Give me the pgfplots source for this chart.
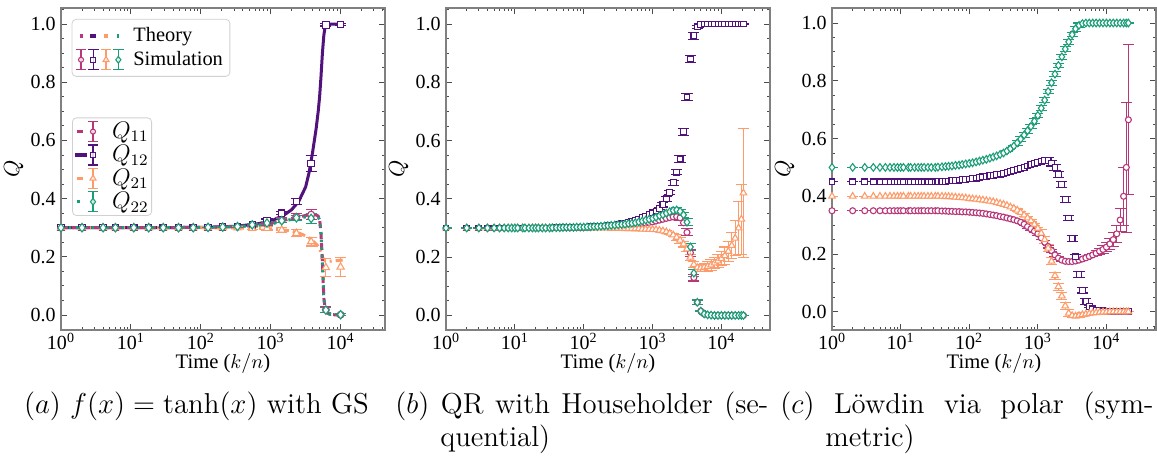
\documentclass[border=0pt]{standalone}
\usepackage{pgfplots}
\pgfplotsset{compat=1.18}
\usepackage{pgfplotstable}
\usepackage{fontspec}
\newfontfamily\libser{Liberation Serif}
\definecolor{c11}{HTML}{B73779}
\definecolor{c12}{HTML}{51127C}
\definecolor{c21}{HTML}{FD9B6A}
\definecolor{c22}{HTML}{1B9E77}

% ---------- panel (a): theory curves ----------
\pgfplotstableread{
x t11 t12 t21 t22
1 0.300 0.300 0.300 0.300
10 0.300 0.300 0.300 0.300
100 0.301 0.301 0.300 0.301
316 0.304 0.305 0.299 0.303
631 0.309 0.313 0.298 0.308
1000 0.315 0.322 0.296 0.313
1585 0.326 0.345 0.292 0.323
1995 0.332 0.362 0.288 0.329
2512 0.337 0.390 0.282 0.333
3162 0.342 0.440 0.272 0.337
3548 0.344 0.490 0.265 0.339
3981 0.345 0.560 0.256 0.340
4467 0.344 0.640 0.244 0.339
4786 0.340 0.700 0.236 0.336
5012 0.330 0.750 0.228 0.328
5248 0.280 0.820 0.215 0.280
5495 0.180 0.900 0.200 0.180
5754 0.060 0.960 0.190 0.060
6026 0.020 0.993 0.186 0.020
6310 0.008 0.999 0.185 0.008
7079 0.002 1.000 0.185 0.002
7943 0.001 1.000 0.186 0.001
10000 0.000 1.000 0.188 0.000
10965 0.000 1.000 0.189 0.000
}\thA

% ---------- panel (a): simulation ----------
\pgfplotstableread{
x q11 e11 q12 e12 q21 e21 q22 e22
1 0.300 0 0.300 0 0.300 0 0.300 0
2 0.300 0 0.300 0 0.300 0 0.300 0
4 0.300 0 0.300 0 0.300 0 0.300 0
6 0.300 0 0.300 0 0.300 0 0.300 0
11 0.300 0 0.300 0 0.300 0 0.300 0
18 0.300 0 0.300 0 0.300 0 0.300 0
29 0.300 0 0.300 0 0.300 0 0.300 0
48 0.300 0 0.300 0 0.300 0 0.300 0
78 0.300 0 0.300 0 0.300 0 0.300 0
127 0.301 0 0.301 0 0.300 0 0.301 0
206 0.302 0.002 0.302 0.002 0.300 0.002 0.302 0.002
335 0.303 0.003 0.304 0.003 0.300 0.003 0.304 0.003
545 0.307 0.004 0.310 0.004 0.298 0.004 0.310 0.004
885 0.314 0.005 0.325 0.005 0.298 0.006 0.316 0.005
1438 0.326 0.008 0.350 0.006 0.292 0.008 0.324 0.007
2335 0.338 0.010 0.390 0.010 0.281 0.012 0.334 0.009
3792 0.345 0.018 0.520 0.027 0.252 0.015 0.332 0.016
6158 0.018 0.010 0.997 0.004 0.163 0.030 0.017 0.008
10000 0.001 0.003 0.998 0.004 0.165 0.034 0.001 0.003
}\simA

% ---------- panel (b) ----------
\pgfplotstableread{
x q11 e11 q12 e12 q21 e21 q22 e22
1 0.300 0 0.300 0 0.300 0 0.300 0
2 0.300 0 0.300 0 0.300 0 0.300 0
3 0.300 0 0.300 0 0.300 0 0.300 0
4 0.300 0 0.300 0 0.300 0 0.300 0
5 0.300 0 0.300 0 0.300 0 0.300 0
6 0.300 0 0.300 0 0.300 0 0.300 0
7 0.300 0 0.300 0 0.300 0 0.300 0
8 0.300 0 0.300 0 0.300 0 0.300 0
9 0.300 0 0.300 0 0.300 0 0.300 0
10 0.300 0 0.300 0 0.300 0 0.300 0
11 0.300 0 0.300 0 0.300 0 0.300 0
13 0.300 0 0.300 0 0.300 0 0.300 0
14 0.300 0 0.300 0 0.300 0 0.300 0
16 0.300 0 0.300 0 0.300 0 0.300 0
18 0.300 0 0.300 0 0.300 0 0.300 0
20 0.300 0 0.300 0 0.300 0 0.300 0
22 0.300 0 0.300 0 0.300 0 0.300 0
25 0.300 0 0.300 0 0.300 0 0.300 0
28 0.300 0 0.300 0 0.300 0 0.300 0
32 0.300 0 0.300 0 0.300 0 0.300 0
35 0.300 0 0.300 0 0.300 0 0.301 0
40 0.301 0 0.301 0 0.300 0 0.301 0
45 0.301 0 0.301 0 0.300 0 0.301 0
50 0.301 0 0.301 0 0.300 0 0.302 0
56 0.301 0 0.302 0 0.300 0 0.302 0
63 0.301 0 0.302 0 0.300 0 0.302 0
71 0.302 0 0.302 0 0.300 0 0.302 0
79 0.302 0 0.302 0 0.300 0 0.303 0
89 0.302 0 0.303 0 0.300 0 0.303 0
100 0.302 0 0.303 0 0.300 0 0.303 0
112 0.303 0 0.303 0 0.300 0 0.304 0
126 0.303 0 0.304 0 0.300 0 0.304 0
141 0.303 0 0.304 0 0.300 0 0.305 0
158 0.304 0 0.305 0 0.300 0 0.305 0
178 0.304 0 0.306 0 0.300 0 0.306 0
200 0.305 0 0.307 0 0.300 0 0.307 0
224 0.305 0 0.308 0 0.300 0 0.308 0
251 0.306 0 0.309 0 0.299 0 0.309 0
282 0.306 0 0.310 0 0.299 0 0.310 0
316 0.307 0 0.312 0 0.299 0 0.311 0
355 0.308 0 0.314 0 0.299 0 0.312 0
398 0.309 0 0.316 0 0.298 0 0.313 0
447 0.310 0 0.319 0 0.298 0 0.315 0
501 0.311 0.004 0.322 0.004 0.298 0.004 0.316 0.004
562 0.313 0.004 0.326 0.004 0.297 0.004 0.318 0.004
631 0.314 0.004 0.330 0.004 0.297 0.004 0.321 0.004
708 0.315 0.004 0.335 0.004 0.296 0.004 0.324 0.004
794 0.317 0.004 0.340 0.004 0.296 0.004 0.327 0.004
891 0.319 0.004 0.346 0.004 0.295 0.004 0.330 0.004
1000 0.321 0.004 0.352 0.004 0.295 0.004 0.333 0.004
1122 0.324 0.004 0.358 0.004 0.294 0.004 0.337 0.004
1259 0.327 0.004 0.367 0.004 0.292 0.004 0.342 0.004
1413 0.330 0.004 0.380 0.008 0.290 0.004 0.346 0.004
1585 0.333 0.004 0.400 0.008 0.287 0.004 0.351 0.004
1778 0.336 0.004 0.422 0.008 0.282 0.004 0.356 0.004
1995 0.338 0.004 0.455 0.008 0.276 0.004 0.360 0.004
2239 0.339 0.008 0.492 0.008 0.268 0.010 0.362 0.008
2512 0.335 0.008 0.537 0.012 0.258 0.010 0.357 0.008
2818 0.318 0.008 0.630 0.012 0.245 0.010 0.345 0.008
3162 0.285 0.012 0.750 0.012 0.228 0.010 0.320 0.012
3548 0.215 0.012 0.880 0.012 0.200 0.010 0.235 0.012
3981 0.130 0.012 0.960 0.012 0.175 0.010 0.145 0.012
4467 0.045 0.008 0.990 0.006 0.164 0.012 0.045 0.008
5012 0.015 0.003 0.998 0.002 0.163 0.013 0.015 0.003
5623 0.005 0 1.000 0 0.165 0.014 0.005 0
6310 0.002 0 1.000 0 0.168 0.016 0.002 0
7079 0.001 0 1.000 0 0.173 0.018 0.001 0
7943 0.000 0 1.000 0 0.180 0.020 0.000 0
8913 0.000 0 1.000 0 0.187 0.022 0.000 0
10000 0.000 0 1.000 0 0.195 0.025 0.000 0
11220 0.000 0 1.000 0 0.205 0.030 0.000 0
12589 0.000 0 1.000 0 0.220 0.035 0.000 0
14125 0.000 0 1.000 0 0.240 0.045 0.000 0
15849 0.000 0 1.000 0 0.265 0.060 0.000 0
17783 0.000 0 1.000 0 0.300 0.090 0.000 0
19498 0.000 0 1.000 0 0.330 0.120 0.000 0
20893 0.000 0 1.000 0 0.420 0.220 0.000 0
}\simB

% ---------- panel (c) ----------
\pgfplotstableread{
x q11 e11 q12 e12 q21 e21 q22 e22
1 0.350 0 0.450 0 0.400 0 0.500 0
2 0.350 0 0.450 0 0.400 0 0.500 0
3 0.350 0 0.450 0 0.400 0 0.500 0
4 0.350 0 0.450 0 0.400 0 0.500 0
5 0.350 0 0.450 0 0.400 0 0.500 0
6 0.350 0 0.450 0 0.400 0 0.500 0
7 0.350 0 0.450 0 0.400 0 0.500 0
8 0.350 0 0.450 0 0.400 0 0.500 0
9 0.350 0 0.450 0 0.400 0 0.500 0
10 0.350 0 0.450 0 0.400 0 0.500 0
11 0.350 0 0.450 0 0.400 0 0.500 0
13 0.350 0 0.450 0 0.400 0 0.500 0
14 0.350 0 0.450 0 0.400 0 0.500 0
16 0.350 0 0.450 0 0.400 0 0.500 0
18 0.350 0 0.450 0 0.400 0 0.500 0
20 0.350 0 0.450 0 0.400 0 0.500 0
22 0.350 0 0.450 0 0.400 0 0.500 0
25 0.350 0 0.450 0 0.400 0 0.500 0
28 0.350 0 0.450 0 0.400 0 0.500 0
32 0.350 0 0.450 0 0.400 0 0.500 0
35 0.350 0 0.451 0 0.400 0 0.501 0
40 0.349 0 0.451 0 0.400 0 0.502 0
45 0.349 0 0.452 0 0.399 0 0.503 0
50 0.348 0 0.453 0 0.399 0 0.504 0
56 0.348 0 0.454 0 0.398 0 0.505 0
63 0.347 0 0.455 0 0.397 0 0.507 0
71 0.347 0 0.456 0 0.396 0 0.508 0
79 0.346 0 0.457 0 0.395 0 0.510 0
89 0.346 0 0.459 0 0.394 0 0.512 0
100 0.345 0 0.460 0 0.392 0 0.514 0
112 0.344 0 0.462 0 0.391 0 0.516 0
126 0.343 0 0.463 0 0.390 0 0.519 0
141 0.342 0 0.465 0 0.388 0 0.522 0
158 0.341 0 0.467 0 0.387 0 0.525 0
178 0.339 0 0.469 0 0.385 0 0.528 0
200 0.337 0 0.471 0 0.383 0 0.532 0
224 0.335 0 0.473 0 0.381 0 0.536 0
251 0.333 0 0.475 0 0.378 0 0.540 0
282 0.330 0 0.477 0 0.375 0 0.545 0
316 0.328 0 0.480 0 0.372 0 0.550 0
355 0.325 0 0.483 0 0.368 0 0.557 0
398 0.322 0 0.486 0 0.363 0 0.565 0
447 0.319 0 0.489 0 0.358 0 0.574 0
501 0.315 0.005 0.493 0.004 0.352 0.004 0.585 0.008
562 0.310 0.005 0.496 0.004 0.344 0.004 0.598 0.008
631 0.303 0.005 0.500 0.004 0.335 0.004 0.612 0.008
708 0.295 0.005 0.505 0.004 0.325 0.004 0.627 0.008
794 0.287 0.005 0.510 0.004 0.315 0.004 0.642 0.008
891 0.279 0.005 0.514 0.004 0.303 0.004 0.660 0.008
1000 0.270 0.005 0.518 0.004 0.289 0.004 0.680 0.008
1122 0.256 0.005 0.522 0.004 0.272 0.012 0.705 0.008
1259 0.241 0.005 0.525 0.004 0.250 0.012 0.733 0.008
1413 0.226 0.005 0.524 0.010 0.220 0.012 0.763 0.008
1585 0.212 0.005 0.515 0.010 0.175 0.012 0.793 0.008
1778 0.197 0.005 0.500 0.010 0.125 0.012 0.823 0.008
1995 0.186 0.005 0.475 0.010 0.087 0.012 0.853 0.008
2239 0.179 0.005 0.440 0.010 0.055 0.012 0.883 0.008
2512 0.175 0.005 0.390 0.010 0.020 0.012 0.910 0.008
2818 0.174 0.005 0.325 0.010 -0.005 0.012 0.935 0.008
3162 0.174 0.005 0.255 0.010 -0.013 0.006 0.960 0.008
3548 0.176 0.005 0.190 0.010 -0.015 0.006 0.980 0.008
3981 0.179 0.005 0.130 0.010 -0.013 0.006 0.992 0.008
4467 0.183 0.005 0.075 0.010 -0.010 0.006 0.998 0
5012 0.187 0.005 0.035 0.010 -0.008 0.006 1.000 0
5623 0.192 0.005 0.018 0.003 -0.006 0.002 1.000 0
6310 0.197 0.005 0.010 0.003 -0.004 0.002 1.000 0
7079 0.203 0.008 0.006 0 -0.003 0.002 1.000 0
7943 0.210 0.010 0.004 0 -0.002 0.002 1.000 0
8913 0.216 0.013 0.003 0 -0.001 0 1.000 0
10000 0.224 0.016 0.002 0 -0.001 0 1.000 0
11220 0.235 0.020 0.002 0 0.000 0 1.000 0
12589 0.250 0.025 0.001 0 0.000 0 1.000 0
14125 0.270 0.030 0.001 0 0.000 0 1.000 0
15849 0.318 0.040 0.001 0 0.000 0 1.000 0
17783 0.400 0.100 0.001 0 0.000 0 1.000 0
19498 0.500 0.225 0.001 0 0.000 0 1.000 0
20893 0.665 0.260 0.001 0 0.000 0 1.000 0
}\simC

% errorbar + marker for legend images (basic pgf layer)
\newcommand{\ebmark}[4]{%
  \begin{pgfscope}
    \pgfsetlinewidth{0.55pt}\pgfsetstrokecolor{#2}%
    \pgfpathmoveto{\pgfpoint{#1}{-5pt}}\pgfpathlineto{\pgfpoint{#1}{5pt}}%
    \pgfpathmoveto{\pgfpoint{#1-2.7pt}{-5pt}}\pgfpathlineto{\pgfpoint{#1+2.7pt}{-5pt}}%
    \pgfpathmoveto{\pgfpoint{#1-2.7pt}{5pt}}\pgfpathlineto{\pgfpoint{#1+2.7pt}{5pt}}%
    \pgfusepath{stroke}%
    \pgftransformshift{\pgfpoint{#1}{0pt}}%
    \pgfsetplotmarksize{#4}\pgfsetfillcolor{white}%
    \pgfuseplotmark{#3}%
  \end{pgfscope}}
\newcommand{\seg}[4]{% x0, x1, colour, width
  \begin{pgfscope}
    \pgfsetlinewidth{#4}\pgfsetstrokecolor{#3}\pgfsetbuttcap
    \pgfpathmoveto{\pgfpoint{#1}{0pt}}\pgfpathlineto{\pgfpoint{#2}{0pt}}%
    \pgfusepath{stroke}%
  \end{pgfscope}}

\pgfplotsset{
 qax/.style={
  anchor=south west, scale only axis, width=162pt, height=161pt,
  xmin=1,
  xtick={1,10,100,1000,10000},
  xticklabels={10\textsuperscript{0},10\textsuperscript{1},10\textsuperscript{2},10\textsuperscript{3},10\textsuperscript{4}},
  minor xtick={2,3,4,5,6,7,8,9,20,30,40,50,60,70,80,90,200,300,400,500,600,700,800,900,2000,3000,4000,5000,6000,7000,8000,9000,20000,30000,40000,50000},
  ytick={0,0.2,0.4,0.6,0.8,1.0},
  yticklabels={0.0,0.2,0.4,0.6,0.8,1.0},
  minor ytick={-0.05,0.05,0.1,0.15,0.25,0.3,0.35,0.45,0.5,0.55,0.65,0.7,0.75,0.85,0.9,0.95,1.05},
  tick align=inside,
  major tick length=3pt, minor tick length=1.7pt,
  every tick/.style={black!70, line width=0.45pt},
  axis line style={black!50, line width=0.6pt},
  ticklabel style={font=\fontsize{10}{11}\libser},
  xticklabel style={inner sep=0pt, yshift=-1.5pt},
  yticklabel style={inner sep=0pt, xshift=-2.5pt},
  xlabel={Time ($k/n$)}, ylabel={$Q$},
  label style={font=\fontsize{10.3}{11}\libser},
  xlabel style={at={(axis description cs:0.5,-0.1025)}, anchor=center},
  ylabel style={at={(axis description cs:-0.146,0.5)}, anchor=center, font=\fontsize{11}{12}\libser},
 },
 sim/.style={only marks, mark options={fill=white, solid, line width=0.55pt},
   error bars/y dir=both, error bars/y explicit,
   error bars/error bar style={line width=0.55pt, solid},
   error bars/error mark options={line width=0.55pt, mark size=2.8pt, rotate=90}},
 s11/.style={c11, mark=*, mark size=1.5pt, sim},
 s12/.style={c12, mark=square*, mark size=1.45pt, sim},
 s21/.style={c21, mark=triangle*, mark size=1.9pt, sim},
 s22/.style={c22, mark=diamond*, mark size=1.9pt, sim},
}

\begin{document}
\begin{tikzpicture}
\useasboundingbox (0,0) rectangle (578.5pt,228.5pt);

% ================= panel (a) =================
\begin{semilogxaxis}[qax, at={(30.5pt,63.5pt)}, xmax=43200, ymin=-0.0515, ymax=1.055,
  legend cell align=left,
  legend style={draw=black!18, rounded corners=2pt, fill=white, fill opacity=0.8,
   text opacity=1, draw opacity=1, anchor=north west,
   at={(axis description cs:0.034,0.66)},
   inner xsep=0.5pt, inner ysep=1pt, nodes={inner sep=1pt}, row sep=0pt,
   font=\fontsize{11.8}{12}\selectfont}]
\addplot[c12, line width=1.5pt, forget plot] table[x=x,y=t12]{\thA};
\addplot[c21, line width=1.5pt, dash pattern=on 3.5pt off 2pt on 1pt off 2pt, forget plot] table[x=x,y=t21]{\thA};
\addplot[c11, line width=1.5pt, dash pattern=on 3.5pt off 2pt, forget plot] table[x=x,y=t11]{\thA};
\addplot[c22, line width=1.5pt, dash pattern=on 1.2pt off 2.6pt, forget plot] table[x=x,y=t22]{\thA};
\addplot[forget plot, s11, mark size=1.7pt] table[x=x,y=q11,y error=e11]{\simA};
\addplot[forget plot, s12, mark size=1.6pt] table[x=x,y=q12,y error=e12]{\simA};
\addplot[forget plot, s21, mark size=2.1pt] table[x=x,y=q21,y error=e21]{\simA};
\addplot[forget plot, s22, mark size=2.1pt] table[x=x,y=q22,y error=e22]{\simA};
\addlegendimage{legend image code/.code={%
  \pgfpathrectangle{\pgfpoint{0pt}{-5pt}}{\pgfpoint{17.5pt}{10pt}}\pgfusepath{}%
  \seg{1pt}{4pt}{c11}{1.6pt}\ebmark{9pt}{c11}{*}{1.25pt}}}
\addlegendentry{$Q_{11}$}
\addlegendimage{legend image code/.code={%
  \pgfpathrectangle{\pgfpoint{0pt}{-5pt}}{\pgfpoint{17.5pt}{10pt}}\pgfusepath{}%
  \seg{0pt}{5.8pt}{c12}{1.6pt}\ebmark{9pt}{c12}{square*}{1.25pt}}}
\addlegendentry{$Q_{12}$}
\addlegendimage{legend image code/.code={%
  \pgfpathrectangle{\pgfpoint{0pt}{-5pt}}{\pgfpoint{17.5pt}{10pt}}\pgfusepath{}%
  \seg{1pt}{4pt}{c21}{1.6pt}\ebmark{9pt}{c21}{triangle*}{1.7pt}}}
\addlegendentry{$Q_{21}$}
\addlegendimage{legend image code/.code={%
  \pgfpathrectangle{\pgfpoint{0pt}{-5pt}}{\pgfpoint{17.5pt}{10pt}}\pgfusepath{}%
  \seg{1.2pt}{2.5pt}{c22}{1.6pt}\ebmark{9pt}{c22}{diamond*}{1.7pt}}}
\addlegendentry{$Q_{22}$}
\end{semilogxaxis}

\begin{semilogxaxis}[qax, at={(30.5pt,63.5pt)}, xmax=43200, ymin=-0.0515, ymax=1.055,
  hide axis, legend cell align=left,
  legend style={draw=black!18, rounded corners=2pt, fill=white, fill opacity=0.8,
   text opacity=1, draw opacity=1, anchor=north west,
   at={(axis description cs:0.033,0.966)},
   inner xsep=1.5pt, inner ysep=2pt, nodes={inner sep=2pt}, row sep=-0.65pt,
   font=\fontsize{10.2}{11}\libser}]
\addlegendimage{legend image code/.code={%
  \pgfpathrectangle{\pgfpoint{0pt}{-5pt}}{\pgfpoint{27pt}{10pt}}\pgfusepath{}%
  \seg{2.3pt}{4pt}{c11}{1.8pt}\seg{7.35pt}{10.35pt}{c12}{1.8pt}%
  \seg{14.5pt}{16.2pt}{c21}{1.8pt}\seg{20.7pt}{22pt}{c22}{1.8pt}}}
\addlegendentry{Theory}
\addlegendimage{legend image code/.code={%
  \pgfpathrectangle{\pgfpoint{0pt}{-5pt}}{\pgfpoint{27pt}{10pt}}\pgfusepath{}%
  \ebmark{2.85pt}{c11}{*}{1.25pt}\ebmark{9pt}{c12}{square*}{1.2pt}%
  \ebmark{15.35pt}{c21}{triangle*}{1.7pt}\ebmark{21.5pt}{c22}{diamond*}{1.7pt}}}
\addlegendentry{Simulation}
\end{semilogxaxis}

% ================= panel (b) =================
\begin{semilogxaxis}[qax, at={(223pt,63.5pt)}, xmax=50800, ymin=-0.05, ymax=1.055]
\addplot[s11] table[x=x,y=q11,y error=e11]{\simB};
\addplot[s12] table[x=x,y=q12,y error=e12]{\simB};
\addplot[s21] table[x=x,y=q21,y error=e21]{\simB};
\addplot[s22] table[x=x,y=q22,y error=e22]{\simB};
\end{semilogxaxis}

% ================= panel (c) =================
\begin{semilogxaxis}[qax, at={(416pt,63.5pt)}, xmax=52800, ymin=-0.063, ymax=1.052]
\addplot[s11] table[x=x,y=q11,y error=e11]{\simC};
\addplot[s12] table[x=x,y=q12,y error=e12]{\simC};
\addplot[s21] table[x=x,y=q21,y error=e21]{\simC};
\addplot[s22] table[x=x,y=q22,y error=e22]{\simC};
\end{semilogxaxis}

% ================= captions =================
\begin{scope}[every node/.style={inner sep=0pt, font=\fontsize{14.4}{17}\selectfont}]
\node[anchor=base] at (98.25pt,22pt) {$(a)$ $f(x)=\tanh(x)$ with GS};
\node[anchor=base west] at (197.5pt,22pt) {\makebox[186.5pt][s]{$(b)$ QR with Householder (se-}};
\node[anchor=base west] at (220pt,5.5pt) {quential)};
\node[anchor=base west] at (390pt,22pt) {\makebox[186.5pt][s]{$(c)$ Löwdin via polar (sym-}};
\node[anchor=base west] at (412.5pt,5.5pt) {metric)};
\end{scope}
\end{tikzpicture}
\end{document}
